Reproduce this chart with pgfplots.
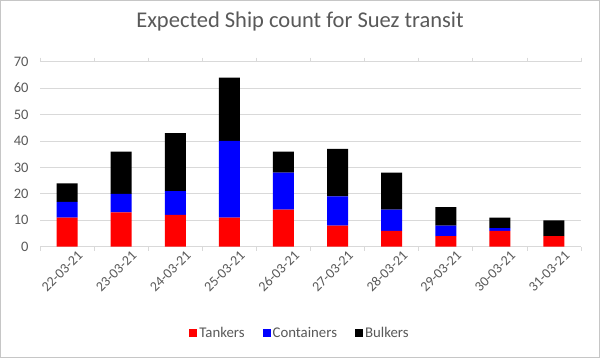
\documentclass[border=0pt]{standalone}
\usepackage{pgfplots}
\pgfplotsset{compat=1.18}
\usepackage{fontspec}
\setmainfont{Carlito}
\definecolor{txtgray}{HTML}{595959}
\definecolor{gridgray}{HTML}{D9D9D9}
\definecolor{tank}{HTML}{FF0000}
\definecolor{cont}{HTML}{0000FF}
\begin{document}
\begin{tikzpicture}[x=1pt,y=1pt]
\fill[white] (0,0) rectangle (600,358);
\draw[gray!45,line width=1pt] (0.5,0.5) rectangle (599.5,357.5);
\node[text=txtgray,font=\fontsize{22.5}{26}\selectfont] at (300,336) {Expected Ship count for Suez transit};
\begin{axis}[
  at={(40pt,111.3pt)}, anchor=south west,
  scale only axis, width=541pt, height=185pt,
  ybar stacked, bar width=21pt,
  xmin=-0.5, xmax=9.5, ymin=0, ymax=70,
  ytick={0,10,...,70},
  xtick={0,...,9},
  xticklabels={22-03-21,23-03-21,24-03-21,25-03-21,26-03-21,27-03-21,28-03-21,29-03-21,30-03-21,31-03-21},
  x tick label style={rotate=45, anchor=north east, font=\fontsize{14}{16}\selectfont, text=txtgray, inner sep=0pt, xshift=5pt, yshift=-9pt},
  y tick label style={font=\fontsize{14.5}{16}\selectfont, text=txtgray, xshift=-8pt},
  /pgf/number format/assume math mode=true,
  minor xtick={-0.5,0.5,...,9.5},
  major tick length=0pt,
  minor tick length=4pt,
  tick align=outside,
  minor x tick style={draw=gridgray, line width=0.8pt},
  ymajorgrids, major grid style={draw=gridgray, line width=0.8pt},
  axis line style={draw=none},
  extra y ticks={0}, extra y tick labels={},
  extra y tick style={grid style={draw=gridgray!90!black, line width=0.8pt}},
  legend columns=3,
  legend style={at={(0.4806,-0.466)}, anchor=center, draw=none, fill=none,
    font=\fontsize{14.8}{16}\selectfont, text=txtgray,
    /tikz/every odd column/.append style={column sep=0pt},
    /tikz/every even column/.append style={column sep=16pt}},
  legend image code/.code={\fill[#1] (0pt,-4pt) rectangle (8pt,4pt);},
  clip=false,
]
\addplot[fill=tank, draw=none] coordinates {(0,11) (1,13) (2,12) (3,11) (4,14) (5,8) (6,6) (7,4) (8,6) (9,4)};
\addplot[fill=cont, draw=none] coordinates {(0,6) (1,7) (2,9) (3,29) (4,14) (5,11) (6,8) (7,4) (8,1) (9,0)};
\addplot[fill=black, draw=none] coordinates {(0,7) (1,16) (2,22) (3,24) (4,8) (5,18) (6,14) (7,7) (8,4) (9,6)};
\legend{Tankers,Containers,Bulkers}
\end{axis}
\end{tikzpicture}
\end{document}
